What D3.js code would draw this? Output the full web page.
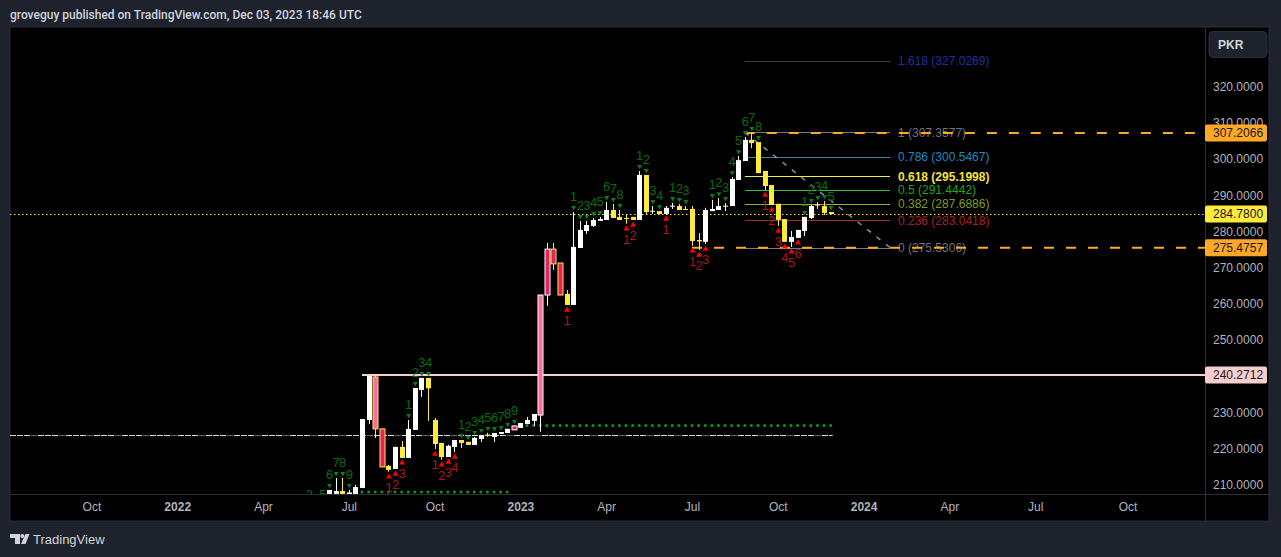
<!DOCTYPE html>
<html><head><meta charset="utf-8">
<script src="https://d3js.org/d3.v7.min.js"></script>
<style>html,body{margin:0;padding:0;background:#1e222d;overflow:hidden}svg{display:block}text{font-family:"Liberation Sans",Arial,sans-serif}</style>
</head><body><svg id="c" width="1281" height="557"></svg>
<script>
// weekly candles, first entry is week index -3
const firstIndex = -3;
const opens = [200.5,199.5,201,207.4,207.4,208.2,207,206,209.05,227.85,239.74,225.37,215.14,214.3,220.4,217.35,225.1,236.15,239.47,227.85,221.5,217.6,220.4,222.3,221.8,220.95,222.6,223.8,223.15,224,224.25,225.1,225.65,226.75,227.6,229.2,262.4,275.1,271.25,262.7,259.65,275.4,280.1,281.5,282.9,283.15,285.9,284,283.7,284,283.15,295.6,285.5,285.6,284.8,286.9,287,286.2,286.2,277.6,277.1,285.6,285.9,286.9,287,294.2,299.45,305.3,304.7,296.7,292.8,287.6,283.4,277.1,278.2,280.1,283.7,287.4,287,285.35];
const closes = [201,200,202,208.5,208.2,207.4,207.8,209.3,228.1,240,225.37,214.86,214.03,220.4,217.35,225.37,236.7,239.47,236.6,221.2,217.6,220.7,222.3,221.5,220.95,222.9,223.7,223.5,224.25,224.5,225.4,226.2,227,227.85,229.5,262.4,275.1,271,262.4,259.65,275.7,280.4,281.75,283.15,283.4,285.9,283.7,283.15,283.5,283.15,295.6,285.35,285.7,284.8,286.5,287.1,285.9,285.9,277.35,277.2,285.9,286.2,287,287.1,294.5,299.7,305.3,304.4,296.1,292.55,287.3,283.15,277.1,278.45,280.4,284,287,287.2,285.1,284.78];
const highs = [203,200.5,203,208.5,211.8,211.8,208.5,209.9,228.1,240.2,240,225.4,215.4,220.4,222.05,227.85,236.7,239.47,239.47,228.4,221.5,221,222.3,222.3,221.8,223.15,223.7,224.3,224.25,224.5,225.4,226.2,227,228.7,229.5,262.4,276.8,276.8,271.25,263.8,285.35,282.85,282.9,283.7,284,288.1,287.6,285.9,284.8,284,296.7,295.6,287,285.6,287,287.85,287.6,287,287,279.55,286.5,288.7,289.2,287.85,295,300.8,306.1,307.2,304.7,296.7,292.8,287.6,283.4,280.1,280.4,284,287.3,288.1,288.4,285.35];
const lows = [199.8,199,200.2,207,207,207,206.5,205.5,209,226.75,222.88,214.86,213.5,214.3,217.35,217.35,225.1,234.2,227.6,219.8,216.8,217.6,219,220.1,220.95,220.95,221.8,223.15,221.8,224,224.25,225.1,225.65,226.75,226.2,224.6,259.4,269.3,262.4,259.65,259.65,275.4,279.3,281.2,282.9,283.15,283.7,283.15,282.1,283.15,283.15,284.5,284.8,284.8,284.8,286.2,285.9,285.9,276,274.85,276.5,285.6,285.9,285.6,287,294.2,299.45,303,296.1,291.45,287.3,281.5,277.1,275.7,278.2,278.7,283.4,286.2,284.5,284.8];
const lightPinkBars = [7,32];
const crimsonBars = [8,28,33,34,35];
const setupUpIndex = [-3,-1,0,1,2,3,12,13,14,15,20,21,22,23,24,25,26,27,28,37,38,39,40,41,42,43,44,47,48,49,50,52,53,54,58,59,60,61,62,63,64,65,72,73,74,75,76];
const setupUpCount = [3,5,6,7,8,9,1,2,3,4,1,2,3,4,5,6,7,8,9,1,2,3,4,5,6,7,8,1,2,3,4,1,2,3,1,2,3,4,5,6,7,8,1,2,3,4,5];
const setupDownIndex = [9,10,11,16,17,18,19,36,45,46,51,55,56,57,66,67,68,69,70,71];
const setupDownCount = [1,2,3,1,2,3,4,1,1,2,1,1,2,3,1,2,3,4,5,6];
const supportDotIndex = d3.range(5,28);
const supportDotPrice = 207.9;
const resistDotIndex = d3.range(30,77);
const resistDotPrice = 226.3;
const fibRatio = ["1.618","1","0.786","0.618","0.5","0.382","0.236","0"];
const fibPrice = [327.0269,307.3577,300.5467,295.1998,291.4442,287.6886,283.0418,275.5306];
const fibLine = ["#3a3d46","#787b86","#3a87ad","#f5e94a","#2fc42f","#8fb51f","#a82a2a","#787b86"];
const fibText = ["#1f2fa8","#6f727c","#1f8ac4","#f5e23c","#1fa51f","#7f9f1a","#a81f2a","#6f727c"];
const priceTicks = [320,310,300,290,280,270,260,250,240,230,220,210];
const timeTickIndex = [-36,-23,-10,3,16,29,42,55,68,81,94,107,121];
const timeTickLabel = ["Oct","2022","Apr","Jul","Oct","2023","Apr","Jul","Oct","2024","Apr","Jul","Oct"];
const orangeLevels = [307.2066,275.4757];
const orangeStart = [63,55];
const pinkLevel = 240.2712, pinkStart = 5;
const lastPrice = 284.78;
const midLevel = 223.65, midEnd = 76;
const fibStart = 63, fibEnd = 85;

const svg = d3.select("#c");
const L=10,R=1205,T=27,B=494,AR=1269,AB=521;
const x = d3.scaleLinear().domain([0,76]).range([329,830.6]);
const y = d3.scaleLinear().domain([210,320]).range([484.5,86.7]);
const bars = opens.map((o,k)=>({i:k+firstIndex,o,c:closes[k],h:highs[k],l:lows[k]}));
const barAt = i=>bars[i-firstIndex];

svg.append("rect").attr("x",L).attr("y",T).attr("width",AR-L).attr("height",AB-T).attr("fill","#000").attr("stroke","#2a2e39");
svg.append("text").attr("x",10).attr("y",18.5).attr("fill","#d1d4dc").attr("font-size",12).attr("font-weight",500).style("font-family","Roboto")
  .text("groveguy published on TradingView.com, Dec 03, 2023 18:46 UTC");
svg.append("defs").append("clipPath").attr("id","p").append("rect").attr("x",L).attr("y",T).attr("width",R-L).attr("height",B-T);
const plot = svg.append("g").attr("clip-path","url(#p)");

// mid dashed level
const yMid=Math.round(y(midLevel))+.5;
plot.append("line").attr("x1",L).attr("x2",x(midEnd)+2).attr("y1",yMid).attr("y2",yMid).attr("stroke","#6a6830").attr("stroke-dasharray","6 1");
plot.append("line").attr("x1",L).attr("x2",x(midEnd)+2).attr("y1",yMid).attr("y2",yMid).attr("stroke","#d8d8d8").attr("stroke-dasharray","6 1 6 1 6 8");

// dotted support/resistance
plot.append("g").selectAll("circle").data(supportDotIndex).join("circle").attr("cx",d=>x(d)).attr("cy",y(supportDotPrice)).attr("r",1.5).attr("fill","#0a9a1a");
plot.append("g").selectAll("circle").data(resistDotIndex).join("circle").attr("cx",d=>x(d)).attr("cy",y(resistDotPrice)).attr("r",1.5).attr("fill","#0a9a1a");

// last price dotted
plot.append("line").attr("x1",L).attr("x2",R).attr("y1",Math.round(y(lastPrice))+.5).attr("y2",Math.round(y(lastPrice))+.5)
  .attr("stroke","#ffeb3b").attr("stroke-dasharray","1.5 2.5");

// fib levels
const fibG = plot.append("g");
fibG.selectAll("line").data(fibPrice).join("line").attr("x1",x(fibStart)).attr("x2",x(fibEnd))
  .attr("y1",d=>Math.round(y(d))+.5).attr("y2",d=>Math.round(y(d))+.5).attr("stroke",(d,k)=>fibLine[k]);
fibG.append("line").attr("x1",x(fibStart)).attr("x2",x(fibEnd)).attr("y1",y(fibPrice[1])).attr("y2",y(fibPrice[7]))
  .attr("stroke","#8a8d96").attr("stroke-width",1.5).attr("stroke-dasharray","5 7");
fibG.selectAll("text").data(fibPrice).join("text").attr("x",898).attr("y",d=>y(d)+4.2).attr("font-size",12)
  .attr("font-weight",(d,k)=>fibRatio[k]==="0.618"?700:400).attr("fill",(d,k)=>fibText[k])
  .text((d,k)=>`${fibRatio[k]} (${d.toFixed(4)})`);

// pink and orange levels
const yPink=y(pinkLevel);
plot.append("line").attr("x1",x(pinkStart)).attr("x2",R).attr("y1",yPink).attr("y2",yPink).attr("stroke","#f8cdcd").attr("stroke-width",2);
plot.append("g").selectAll("line").data(orangeLevels).join("line").attr("x1",(d,k)=>x(orangeStart[k])).attr("x2",R)
  .attr("y1",d=>y(d)).attr("y2",d=>y(d)).attr("stroke","#ffa726").attr("stroke-width",2).attr("stroke-dasharray","10 12");

// candles
const isLight=i=>lightPinkBars.includes(i), isCrim=i=>crimsonBars.includes(i);
const up=d=>d.c>=d.o;
const edge=d=>up(d)?"#ffffff":"#ffeb3b";
const cg = plot.append("g");
cg.selectAll("line").data(bars).join("line").attr("x1",d=>Math.round(x(d.i))+.5).attr("x2",d=>Math.round(x(d.i))+.5)
  .attr("y1",d=>y(d.h)).attr("y2",d=>y(d.l)).attr("stroke",edge);
cg.selectAll("rect").data(bars).join("rect")
  .attr("x",d=>Math.round(x(d.i))-2).attr("width",5)
  .attr("y",d=>y(Math.max(d.o,d.c))).attr("height",d=>Math.max(1,Math.abs(y(d.o)-y(d.c))))
  .attr("fill",d=>isLight(d.i)?"#ff6b9d":isCrim(d.i)?"#e91e63":edge(d))
  .attr("stroke",edge).attr("stroke-width",d=>(isLight(d.i)||isCrim(d.i))?1:0);

// sequential counts
const triUp=d3.symbol().type(d3.symbolTriangle).size(11);
const triDn=d3.symbol().type(d3.symbolTriangle).size(15);
const ug=plot.append("g");
ug.selectAll("path").data(setupUpIndex).join("path").attr("d",triUp)
  .attr("transform",i=>`translate(${x(i)+.5},${y(barAt(i).h)-4.5}) rotate(180)`).attr("fill","#0b7a22");
ug.selectAll("text").data(setupUpIndex).join("text").attr("x",i=>x(i)+.5).attr("y",i=>y(barAt(i).h)-11)
  .attr("text-anchor","middle").attr("font-size",13).attr("fill","#0d6b12").text((i,k)=>setupUpCount[k]);
const dg=plot.append("g");
dg.selectAll("path").data(setupDownIndex).join("path").attr("d",triDn)
  .attr("transform",i=>`translate(${x(i)+.5},${y(barAt(i).l)+5})`).attr("fill","#ff0000");
dg.selectAll("text").data(setupDownIndex).join("text").attr("x",i=>x(i)+.5).attr("y",i=>y(barAt(i).l)+20)
  .attr("text-anchor","middle").attr("font-size",13).attr("fill","#a81818").text((i,k)=>setupDownCount[k]);

// axes
svg.append("line").attr("x1",R+.5).attr("x2",R+.5).attr("y1",T).attr("y2",AB).attr("stroke","#2a2e39");
svg.append("line").attr("x1",L).attr("x2",AR).attr("y1",B+.5).attr("y2",B+.5).attr("stroke","#2a2e39");
const ay=svg.append("g").attr("transform",`translate(${R},0)`).call(d3.axisRight(y).tickValues(priceTicks).tickSize(0).tickPadding(8).tickFormat(d3.format(".4f")));
ay.select(".domain").remove();
ay.selectAll("text").attr("fill","#b2b5be").attr("font-size",12).attr("font-family",'"Liberation Sans",Arial,sans-serif');
const ax=svg.append("g").attr("transform",`translate(0,${B})`).call(d3.axisBottom(x).tickValues(timeTickIndex).tickSize(0).tickPadding(8).tickFormat((d,k)=>timeTickLabel[k]));
ax.select(".domain").remove();
ax.selectAll("text").attr("fill","#b2b5be").attr("font-size",12).attr("font-family",'"Liberation Sans",Arial,sans-serif')
  .attr("font-weight",(d,k)=>/^\d/.test(timeTickLabel[k])?700:400);

// price tags
const tags=[{p:orangeLevels[0],bg:"#ffa726"},{p:orangeLevels[1],bg:"#ffa726"},{p:pinkLevel,bg:"#f8cdcd"},{p:lastPrice,bg:"#ffeb3b"}];
const tg=svg.append("g");
tg.selectAll("rect").data(tags).join("rect").attr("x",R).attr("y",d=>y(d.p)-8.5).attr("width",62).attr("height",17).attr("rx",2).attr("fill",d=>d.bg);
tg.selectAll("text").data(tags).join("text").attr("x",R+8).attr("y",d=>y(d.p)+4.2).attr("font-size",12).attr("fill","#131722").text(d=>d.p.toFixed(4));

// currency box
svg.append("rect").attr("x",1209).attr("y",31.5).attr("width",58).attr("height",26).attr("rx",4).attr("fill","#1e222d").attr("stroke","#2a2e39");
svg.append("text").attr("x",1218).attr("y",49).attr("font-size",12).attr("font-weight",600).attr("fill","#d1d4dc").text("PKR");

// brand
const lg=svg.append("g").attr("fill","#d1d4dc");
lg.append("path").attr("d","M10 534H20V544H15V538H10Z");
lg.append("circle").attr("cx",22.3).attr("cy",536).attr("r",2);
lg.append("path").attr("d","M25.5 534H29.5L25.5 544H21Z");
svg.append("text").attr("x",33).attr("y",544).attr("font-size",13).attr("fill","#d1d4dc").text("TradingView");
</script></body></html>
